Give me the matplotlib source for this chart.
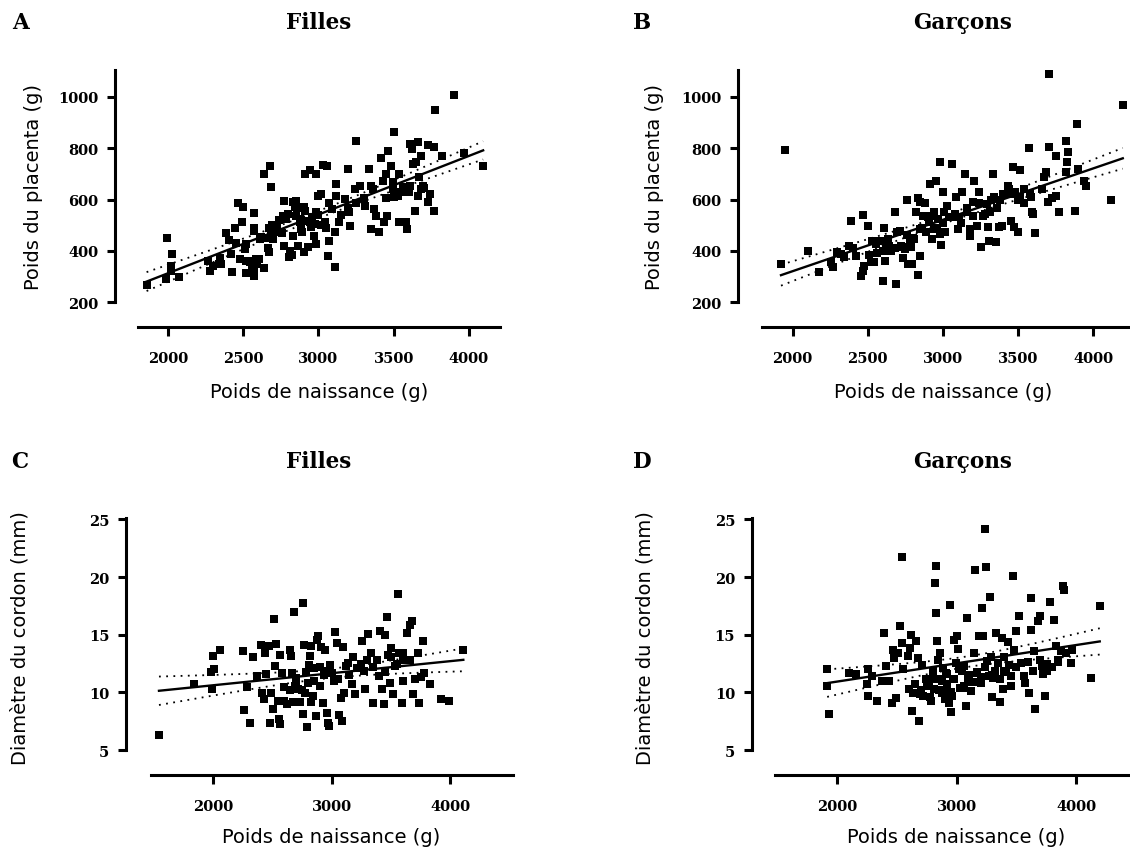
import numpy as np
import matplotlib
matplotlib.use("Agg")
import matplotlib.pyplot as plt

# ---------------- data ----------------
a_x = [1858, 1988, 1995, 2028, 2019, 2076, 2020, 2266, 2280, 2337, 2344, 2384, 2408, 2422, 2427, 2446,
       2467, 2498, 2493, 2517, 2510, 2479, 2517, 2522, 2545, 2569, 2574, 2574, 2584, 2574, 2574, 2605,
       2593, 2640, 2640, 2678, 2688, 2612, 2664, 2669, 2669, 2683, 2693, 2716, 2707, 2735, 2723, 2771,
       2764, 2771, 2783, 2795, 2807, 2812, 2826, 2830, 2830, 2842, 2849, 2854, 2866, 2878, 2883, 2892,
       2902, 2902, 2913, 2913, 2944, 2944, 2930, 2954, 2968, 2985, 2985, 2985, 2996, 3019, 3014, 3031,
       3054, 3042, 3066, 3071, 3071, 3090, 3113, 3118, 3113, 3118, 3137, 3175, 3196, 3203, 3208, 3251,
       3244, 3275, 3308, 3339, 3351, 3363, 3351, 3370, 3386, 3403, 3417, 3427, 3434, 3446, 3465, 3458,
       3481, 3493, 3498, 3505, 3505, 3529, 3536, 3536, 3552, 3564, 3576, 3583, 3588, 3612, 3624, 3612,
       3631, 3640, 3647, 3664, 3659, 3671, 3683, 3695, 3726, 3730, 3742, 3766, 3766, 3773, 3820, 3900,
       3966, 4095,
       2740, 2760, 2800, 2860, 2880, 2920, 2960, 2980, 3000, 3050, 2700, 2650, 2620, 2560, 2480, 2530,
       2450, 2350, 2300, 3150, 3200, 3250, 3300, 3450, 3500, 3600, 3680, 3700]
a_y = [267, 291, 449, 387, 343, 300, 320, 361, 323, 349, 371, 468, 441, 387, 317, 488,
       586, 570, 511, 427, 407, 369, 362, 314, 355, 549, 488, 479, 369, 332, 304, 369,
       349, 332, 699, 729, 647, 447, 410, 394, 488, 459, 499, 488, 479, 472, 496, 595,
       537, 418, 524, 544, 375, 401, 384, 459, 589, 570, 537, 595, 420, 511, 485, 472,
       397, 570, 557, 699, 716, 511, 414, 492, 459, 699, 550, 427, 612, 621, 502, 735,
       732, 514, 382, 440, 586, 563, 472, 660, 336, 615, 511, 602, 719, 550, 498, 829,
       641, 654, 576, 719, 654, 641, 485, 563, 537, 472, 760, 673, 511, 699, 790, 537,
       732, 641, 670, 861, 608, 615, 699, 511, 628, 647, 641, 511, 485, 816, 797, 654,
       738, 557, 747, 822, 615, 686, 770, 654, 812, 589, 621, 803, 557, 950, 770, 1008,
       781, 730,
       520, 470, 545, 565, 525, 515, 530, 505, 540, 490, 445, 450, 455, 340, 370, 360,
       430, 350, 340, 540, 565, 585, 605, 605, 625, 630, 640, 645]

b_x = [1947, 1923, 2104, 2174, 2254, 2266, 2295, 2319, 2343, 2374, 2391, 2399, 2423, 2454, 2466, 2471,
       2478, 2502, 2507, 2519, 2531, 2543, 2555, 2579, 2599, 2608, 2616, 2623, 2633, 2652, 2688, 2681,
       2696, 2713, 2725, 2737, 2749, 2761, 2768, 2778, 2785, 2797, 2809, 2821, 2833, 2833, 2845, 2850,
       2845, 2870, 2882, 2889, 2906, 2913, 2918, 2930, 2942, 2954, 2966, 2978, 2978, 2990, 3002, 3010,
       3014, 3026, 3062, 3067, 3086, 3098, 3110, 3129, 3146, 3158, 3178, 3182, 3202, 3206, 3226, 3243,
       3250, 3267, 3291, 3299, 3303, 3315, 3332, 3340, 3352, 3371, 3380, 3395, 3415, 3431, 3455, 3467,
       3472, 3479, 3496, 3510, 3515, 3540, 3569, 3588, 3593, 3600, 3612, 3656, 3673, 3685, 3697, 3704,
       3704, 3728, 3752, 3752, 3769, 3817, 3829, 3824, 3817, 3877, 3889, 3896, 3938, 3950, 4119, 4196,
       2860, 2900, 2940, 2960, 3000, 3040, 3080, 3120, 3160, 3200, 3240, 3280, 3320, 3360, 3400, 3440,
       3460, 3500, 3540, 3580, 2760, 2800, 2720, 2680, 2640, 2560, 2600]
b_y = [793, 349, 401, 319, 355, 336, 397, 388, 375, 420, 518, 410, 381, 304, 323, 540,
       342, 498, 384, 358, 440, 358, 427, 440, 281, 488, 362, 420, 446, 401, 272, 550,
       472, 479, 414, 371, 407, 598, 349, 433, 414, 349, 446, 550, 605, 307, 589, 381,
       485, 537, 586, 472, 511, 660, 537, 446, 485, 673, 524, 466, 745, 423, 631, 550,
       472, 576, 738, 531, 608, 485, 531, 628, 699, 550, 485, 459, 589, 673, 498, 628,
       414, 537, 582, 492, 440, 550, 699, 608, 433, 492, 597, 498, 621, 654, 518, 728,
       492, 628, 472, 715, 608, 641, 799, 608, 550, 544, 469, 641, 686, 706, 589, 803,
       1088, 605, 615, 770, 550, 829, 786, 747, 706, 557, 894, 719, 673, 654, 598, 967,
       490, 530, 550, 490, 510, 530, 545, 510, 565, 535, 585, 545, 600, 565, 620, 640,
       620, 600, 585, 620, 460, 450, 420, 410, 420, 390, 400]

c_x = [1547, 1841, 2003, 1982, 2012, 1997, 2057, 2253, 2259, 2289, 2313, 2334, 2373, 2409, 2412, 2427,
       2439, 2448, 2469, 2484, 2493, 2508, 2517, 2523, 2529, 2547, 2559, 2562, 2568, 2583, 2598, 2628,
       2649, 2649, 2658, 2667, 2673, 2679, 2688, 2697, 2718, 2733, 2757, 2757, 2769, 2778, 2787, 2793,
       2808, 2817, 2823, 2829, 2847, 2853, 2868, 2877, 2889, 2898, 2913, 2928, 2937, 2943, 2958, 2967,
       2979, 2988, 3003, 3018, 3027, 3048, 3063, 3078, 3087, 3099, 3108, 3117, 3138, 3168, 3183, 3198,
       3213, 3258, 3273, 3279, 3309, 3333, 3348, 3378, 3399, 3408, 3423, 3438, 3453, 3468, 3477, 3489,
       3498, 3513, 3537, 3558, 3567, 3588, 3597, 3603, 3618, 3633, 3657, 3663, 3678, 3687, 3699, 3723,
       3738, 3753, 3768, 3777, 3828, 3918, 3987, 4108,
       2850, 2900, 2950, 3050, 3150, 3250, 3350, 3450, 3550, 3600, 2600, 2700, 2800, 2750, 3300, 3500]
c_y = [6.29, 10.75, 13.14, 11.76, 11.99, 10.27, 13.72, 13.63, 8.48, 10.47, 7.33, 13.09, 11.42, 14.15, 9.98, 9.40,
       13.43, 11.56, 14.01, 7.33, 9.98, 8.54, 16.37, 12.28, 14.24, 9.26, 7.67, 7.24, 13.29, 11.70, 9.26, 8.97,
       10.21, 13.72, 13.14, 11.70, 9.17, 16.94, 10.55, 11.27, 10.27, 9.17, 17.75, 8.11, 14.15, 9.98, 11.76, 7.04,
       12.42, 13.14, 9.17, 14.01, 9.69, 12.14, 7.96, 14.59, 14.93, 10.55, 13.95, 9.11, 11.47, 13.72, 8.25, 7.33,
       7.10, 12.42, 11.65, 10.98, 15.21, 14.30, 8.02, 9.54, 7.53, 13.95, 9.98, 12.28, 12.57, 10.70, 13.09, 9.83,
       12.14, 14.44, 11.85, 10.32, 15.10, 13.43, 9.11, 12.85, 11.42, 15.30, 10.27, 8.97, 15.01, 16.54, 13.29, 10.84,
       13.86, 9.83, 12.28, 18.55, 13.43, 9.11, 13.43, 10.98, 12.85, 15.16, 15.88, 12.85, 16.16, 9.83, 11.13, 13.43,
       9.11, 11.36, 14.44, 11.70, 10.70, 9.46, 9.26, 13.72,
       11.0, 12.2, 11.9, 11.2, 11.5, 12.5, 12.2, 11.8, 12.5, 12.9, 10.5, 11.0, 10.8, 10.2, 12.8, 13.1]

d_x = [1918, 1918, 1933, 2100, 2161, 2261, 2252, 2261, 2292, 2334, 2374, 2389, 2413, 2435, 2456, 2465,
       2474, 2495, 2510, 2526, 2541, 2547, 2556, 2595, 2608, 2617, 2626, 2638, 2662, 2678, 2687, 2693,
       2708, 2723, 2747, 2768, 2784, 2799, 2814, 2820, 2829, 2829, 2838, 2845, 2851, 2860, 2875, 2890,
       2899, 2912, 2921, 2936, 2942, 2951, 2966, 2982, 2997, 3003, 3012, 3027, 3043, 3064, 3082, 3088,
       3094, 3118, 3143, 3155, 3173, 3185, 3203, 3216, 3225, 3234, 3246, 3255, 3276, 3285, 3295, 3307,
       3331, 3346, 3362, 3377, 3386, 3398, 3428, 3452, 3459, 3468, 3483, 3498, 3519, 3538, 3574, 3605,
       3620, 3620, 3635, 3650, 3659, 3681, 3696, 3711, 3726, 3741, 3757, 3781, 3817, 3833, 3848, 3872,
       3893, 3902, 3914, 3954, 3969, 4127, 4197,
       2750, 2800, 2850, 2880, 2920, 2950, 2980, 3020, 3050, 3100, 3130, 3170, 3200, 3240, 3270, 3320,
       3360, 3410, 3440, 3500, 3560, 3600, 3700, 3760, 3800, 3850, 2700, 2780, 2900, 2960, 3060, 3150,
       3300, 3400, 2600, 2650]
d_y = [11.99, 10.55, 8.11, 11.70, 11.56, 12.05, 10.70, 9.69, 11.42, 9.26, 11.00, 15.16, 12.28, 11.00, 9.11, 13.72,
       13.00, 9.54, 13.43, 15.73, 14.30, 21.72, 11.99, 13.14, 13.86, 15.01, 8.40, 9.98, 14.44, 13.00, 7.53, 9.83,
       12.42, 9.69, 11.13, 10.55, 9.26, 11.85, 10.27, 19.53, 20.97, 16.88, 14.44, 12.85, 11.18, 13.43, 9.98, 12.14,
       9.40, 11.70, 10.70, 9.11, 17.60, 8.31, 11.13, 14.59, 12.57, 14.87, 13.78, 10.41, 11.85, 12.28, 8.83, 16.45,
       11.13, 10.12, 13.43, 20.63, 11.70, 14.87, 10.84, 17.32, 14.87, 24.19, 20.92, 12.71, 18.27, 13.09, 9.63, 11.27,
       15.16, 12.57, 9.17, 14.73, 10.27, 13.09, 14.35, 11.42, 10.55, 20.06, 13.72, 15.30, 16.59, 12.57, 10.84, 9.98,
       18.18, 15.44, 11.85, 13.57, 8.54, 16.16, 16.59, 12.28, 11.56, 9.69, 11.85, 17.80, 16.29, 14.01, 12.85, 13.57,
       19.19, 18.84, 13.43, 12.57, 13.72, 11.27, 17.52,
       10.8, 11.2, 10.2, 11.0, 11.6, 10.0, 11.2, 12.0, 10.4, 11.5, 10.9, 11.8, 11.3, 12.2, 11.4, 11.9,
       11.2, 11.8, 12.4, 12.2, 11.4, 12.6, 12.8, 12.5, 12.2, 12.6, 10.2, 9.6, 10.0, 9.7, 10.6, 10.9,
       11.5, 11.9, 10.3, 10.7]

titles = ["Filles", "Garçons", "Filles", "Garçons"]
letters = ["A", "B", "C", "D"]
xlabel = "Poids de naissance (g)"
ylabels = ["Poids du placenta (g)", "Poids du placenta (g)",
           "Diamètre du cordon (mm)", "Diamètre du cordon (mm)"]
xticks_top = [2000, 2500, 3000, 3500, 4000]
xticks_bot = [2000, 3000, 4000]
yticks_top = [200, 400, 600, 800, 1000]
yticks_bot = [5, 10, 15, 20, 25]

# ---------------- layout ----------------
W, H = 1130, 854
fig = plt.figure(figsize=(W / 100, H / 100), dpi=100)

def fx(px):
    return px / W

def fy(py):
    return 1 - py / H

panels = [
    dict(x=a_x, y=a_y, box=(115, 500, 70.7, 328.3), xlim=(1648, 4207), ylim=(102.8, 1105),
         xb=(1798, 4207), yb=(200, 1105), xt=xticks_top, yt=yticks_top,
         tx=319, lx=20, ylx=34, xlx=319, row=0),
    dict(x=b_x, y=b_y, box=(738, 1130, 70.7, 328.3), xlim=(1637, 4244), ylim=(102.8, 1105),
         xb=(1794, 4244), yb=(200, 1105), xt=xticks_top, yt=yticks_top,
         tx=963, lx=642, ylx=654, xlx=943, row=0),
    dict(x=c_x, y=c_y, box=(125.7, 513, 519.3, 776), xlim=(1267, 4526), ylim=(2.842, 25.1),
         xb=(1477, 4526), yb=(5, 25.1), xt=xticks_bot, yt=yticks_bot,
         tx=319, lx=20, ylx=20, xlx=331, row=1),
    dict(x=d_x, y=d_y, box=(751.6, 1130, 519.3, 776), xlim=(1286, 4450), ylim=(2.842, 25.1),
         xb=(1483, 4450), yb=(5, 25.1), xt=xticks_bot, yt=yticks_bot,
         tx=963, lx=642, ylx=645, xlx=956, row=1),
]

tick_font = dict(family="DejaVu Serif", weight="bold", size=10.5)
label_font = dict(family="DejaVu Sans", size=14)
title_font = dict(family="DejaVu Serif", weight="bold", size=15.5)

for i, p in enumerate(panels):
    l, r, t, b = p["box"]
    ax = fig.add_axes([fx(l), fy(b), fx(r - l), (b - t) / H])
    x = np.array(p["x"], dtype=float)
    y = np.array(p["y"], dtype=float)
    ax.plot(x, y, linestyle="none", marker="s", markersize=5.3, color="black",
            markeredgewidth=0, clip_on=False)

    # linear regression with 95% confidence band
    n = len(x)
    slope, inter = np.polyfit(x, y, 1)
    xs = np.linspace(x.min(), x.max(), 200)
    ys = inter + slope * xs
    resid = y - (inter + slope * x)
    s = np.sqrt(np.sum(resid ** 2) / (n - 2))
    sxx = np.sum((x - x.mean()) ** 2)
    se = s * np.sqrt(1.0 / n + (xs - x.mean()) ** 2 / sxx)
    tval = 1.97
    ax.plot(xs, ys, color="black", lw=1.7)
    ax.plot(xs, ys + tval * se, color="black", lw=1.3, linestyle=(0, (1, 3)))
    ax.plot(xs, ys - tval * se, color="black", lw=1.3, linestyle=(0, (1, 3)))

    ax.set_xlim(*p["xlim"])
    ax.set_ylim(*p["ylim"])
    ax.set_xticks(p["xt"])
    ax.set_yticks(p["yt"])
    ax.set_xticklabels([str(v) for v in p["xt"]], fontdict=tick_font)
    ax.set_yticklabels([str(v) for v in p["yt"]], fontdict=tick_font)
    for side in ("top", "right"):
        ax.spines[side].set_visible(False)
    ax.spines["left"].set_bounds(*p["yb"])
    ax.spines["bottom"].set_bounds(*p["xb"])
    for side in ("left", "bottom"):
        ax.spines[side].set_linewidth(2.2)
    ax.tick_params(axis="y", direction="out", length=5.8, width=2.2, pad=6)
    ax.tick_params(axis="x", direction="out", length=6.5, width=2.2, pad=10.5)
    ax.patch.set_alpha(0)

    ty = 23 if p["row"] == 0 else 461.7
    fig.text(fx(p["tx"]), fy(ty), titles[i], ha="center", va="center", **title_font)
    fig.text(fx(p["lx"]), fy(ty), letters[i], ha="center", va="center", **title_font)
    ylc = 187 if p["row"] == 0 else 638
    fig.text(fx(p["ylx"]), fy(ylc), ylabels[i], rotation=90, ha="center", va="center", **label_font)
    xlc = 393 if p["row"] == 0 else 838
    fig.text(fx(p["xlx"]), fy(xlc), xlabel, ha="center", va="center", **label_font)

fig.savefig("out.png", dpi=100, facecolor="white")
